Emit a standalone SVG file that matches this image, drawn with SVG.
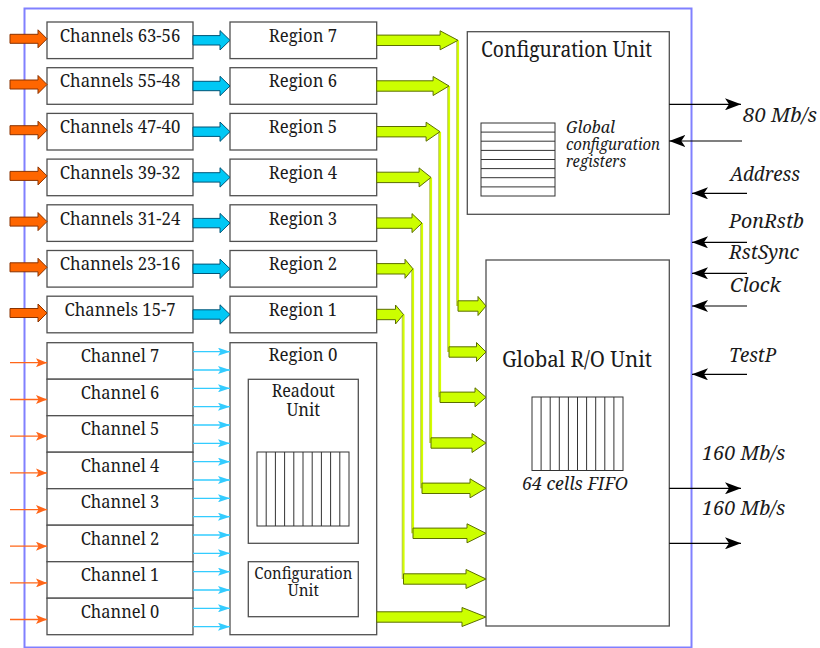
<svg xmlns="http://www.w3.org/2000/svg" width="820" height="648" viewBox="0 0 820 648">
<style>
.box{fill:#fff;stroke:#505050;stroke-width:1.3}
.grid{fill:none;stroke:#333;stroke-width:1}
text{font-family:"Noto Serif","DejaVu Serif",serif;fill:#1a1a1a}
.t{font-size:18.5px;text-anchor:middle}
.tl{font-size:18.8px;text-anchor:middle}
.ti{font-style:italic}
.ga{fill:#ccff00;stroke:#5c6e00;stroke-width:1}
.oa{fill:#ff6600;stroke:#8a3300;stroke-width:1}
.ca{fill:#00c8f5;stroke:#005577;stroke-width:1}
.vy{stroke:#d4ff00;stroke-width:2.2;fill:none}
.vo{stroke:#8fa300;stroke-width:0.6;fill:none}
.ot{stroke:#ff6619;stroke-width:1.3;fill:none;marker-end:url(#ho)}
.ct{stroke:#33ccff;stroke-width:1.3;fill:none;marker-end:url(#hc)}
.bk{stroke:#000;stroke-width:1.2;fill:none;marker-end:url(#hb)}
</style>
<defs>
<marker id="hb" viewBox="0 0 16 12" refX="16" refY="6" markerWidth="16" markerHeight="12" markerUnits="userSpaceOnUse" orient="auto"><path d="M0,0 L16,6 L0,12 L4,6 Z" fill="#000"/></marker>
<marker id="ho" viewBox="0 0 11 9" refX="11" refY="4.5" markerWidth="11" markerHeight="9" markerUnits="userSpaceOnUse" orient="auto"><path d="M0,0 L11,4.5 L0,9 L2.5,4.5 Z" fill="#ff6619"/></marker>
<marker id="hc" viewBox="0 0 12 8" refX="12" refY="4" markerWidth="12" markerHeight="8" markerUnits="userSpaceOnUse" orient="auto"><path d="M0,0 L12,4 L0,8 L2.5,4 Z" fill="#33ccff"/></marker>
</defs>
<rect x="0" y="0" width="820" height="648" fill="#fff"/>
<rect id="frame" x="24.5" y="8.5" width="667" height="639" fill="none" stroke="#8080ff" stroke-width="2"/>

<g id="ch63"><rect class="box" x="47" y="22" width="146" height="36.6"/><text class="t" x="120" y="41.7" textLength="120.5" lengthAdjust="spacingAndGlyphs">Channels 63-56</text></g>
<g id="ch55"><rect class="box" x="47" y="67.7" width="146" height="36.6"/><text class="t" x="120" y="87.4" textLength="120.5" lengthAdjust="spacingAndGlyphs">Channels 55-48</text></g>
<g id="ch47"><rect class="box" x="47" y="113.4" width="146" height="36.6"/><text class="t" x="120" y="133.1" textLength="120.5" lengthAdjust="spacingAndGlyphs">Channels 47-40</text></g>
<g id="ch39"><rect class="box" x="47" y="159.1" width="146" height="36.6"/><text class="t" x="120" y="178.8" textLength="120.5" lengthAdjust="spacingAndGlyphs">Channels 39-32</text></g>
<g id="ch31"><rect class="box" x="47" y="204.8" width="146" height="36.6"/><text class="t" x="120" y="224.5" textLength="120.5" lengthAdjust="spacingAndGlyphs">Channels 31-24</text></g>
<g id="ch23"><rect class="box" x="47" y="250.5" width="146" height="36.6"/><text class="t" x="120" y="270.2" textLength="120.5" lengthAdjust="spacingAndGlyphs">Channels 23-16</text></g>
<g id="ch15"><rect class="box" x="47" y="296.2" width="146" height="36.6"/><text class="t" x="120" y="315.9" textLength="111" lengthAdjust="spacingAndGlyphs">Channels 15-7</text></g>

<g id="reg7"><rect class="box" x="230" y="22" width="146.7" height="36.6"/><text class="t" x="303" y="41.7" textLength="68.3" lengthAdjust="spacingAndGlyphs">Region 7</text></g>
<g id="reg6"><rect class="box" x="230" y="67.7" width="146.7" height="36.6"/><text class="t" x="303" y="87.4" textLength="68.3" lengthAdjust="spacingAndGlyphs">Region 6</text></g>
<g id="reg5"><rect class="box" x="230" y="113.4" width="146.7" height="36.6"/><text class="t" x="303" y="133.1" textLength="68.3" lengthAdjust="spacingAndGlyphs">Region 5</text></g>
<g id="reg4"><rect class="box" x="230" y="159.1" width="146.7" height="36.6"/><text class="t" x="303" y="178.8" textLength="68.3" lengthAdjust="spacingAndGlyphs">Region 4</text></g>
<g id="reg3"><rect class="box" x="230" y="204.8" width="146.7" height="36.6"/><text class="t" x="303" y="224.5" textLength="68.3" lengthAdjust="spacingAndGlyphs">Region 3</text></g>
<g id="reg2"><rect class="box" x="230" y="250.5" width="146.7" height="36.6"/><text class="t" x="303" y="270.2" textLength="68.3" lengthAdjust="spacingAndGlyphs">Region 2</text></g>
<g id="reg1"><rect class="box" x="230" y="296.2" width="146.7" height="36.6"/><text class="t" x="303" y="315.9" textLength="68.3" lengthAdjust="spacingAndGlyphs">Region 1</text></g>

<g id="channels0-7">
<rect class="box" x="47" y="342.7" width="146" height="36.5"/><text class="tl" x="120" y="362.3" textLength="78.5" lengthAdjust="spacingAndGlyphs">Channel 7</text>
<rect class="box" x="47" y="379.2" width="146" height="36.5"/><text class="tl" x="120" y="398.8" textLength="78.5" lengthAdjust="spacingAndGlyphs">Channel 6</text>
<rect class="box" x="47" y="415.7" width="146" height="36.5"/><text class="tl" x="120" y="435.3" textLength="78.5" lengthAdjust="spacingAndGlyphs">Channel 5</text>
<rect class="box" x="47" y="452.2" width="146" height="36.5"/><text class="tl" x="120" y="471.8" textLength="78.5" lengthAdjust="spacingAndGlyphs">Channel 4</text>
<rect class="box" x="47" y="488.7" width="146" height="36.5"/><text class="tl" x="120" y="508.3" textLength="78.5" lengthAdjust="spacingAndGlyphs">Channel 3</text>
<rect class="box" x="47" y="525.2" width="146" height="36.5"/><text class="tl" x="120" y="544.8" textLength="78.5" lengthAdjust="spacingAndGlyphs">Channel 2</text>
<rect class="box" x="47" y="561.7" width="146" height="36.5"/><text class="tl" x="120" y="581.3" textLength="78.5" lengthAdjust="spacingAndGlyphs">Channel 1</text>
<rect class="box" x="47" y="598.2" width="146" height="36.5"/><text class="tl" x="120" y="617.8" textLength="78.5" lengthAdjust="spacingAndGlyphs">Channel 0</text>
</g>

<g id="region0">
<rect class="box" x="230" y="342.7" width="146.7" height="292"/>
<text class="tl" x="303" y="360.7" textLength="69" lengthAdjust="spacingAndGlyphs">Region 0</text>
</g>
<g id="readout">
<rect class="box" x="248.3" y="379.3" width="110" height="164"/>
<text class="tl" x="303.3" y="396.7" textLength="63.3" lengthAdjust="spacingAndGlyphs">Readout</text>
<text class="tl" x="303.3" y="416" textLength="33.8" lengthAdjust="spacingAndGlyphs">Unit</text>
<rect class="grid" x="257" y="452" width="92" height="74"/>
<path class="grid" d="M266.2,452V526M275.4,452V526M284.6,452V526M293.8,452V526M303,452V526M312.2,452V526M321.4,452V526M330.6,452V526M339.8,452V526"/>
</g>
<g id="config0">
<rect class="box" x="248.3" y="561.7" width="110" height="55"/>
<text class="tl" x="303.3" y="579" style="font-size:16px" textLength="98" lengthAdjust="spacingAndGlyphs">Configuration</text>
<text class="tl" x="303.3" y="595.7" style="font-size:16px" textLength="31" lengthAdjust="spacingAndGlyphs">Unit</text>
</g>

<g id="configUnit">
<rect class="box" x="467.3" y="31.7" width="202" height="182.6"/>
<text class="t" x="566.5" y="56.7" style="font-size:21px" textLength="171" lengthAdjust="spacingAndGlyphs">Configuration Unit</text>
<rect class="grid" x="481" y="123" width="74" height="73"/>
<path class="grid" d="M481,132.1H555M481,141.2H555M481,150.4H555M481,159.5H555M481,168.6H555M481,177.7H555M481,186.9H555"/>
<text class="ti" x="566" y="133" style="font-size:15.5px" textLength="49" lengthAdjust="spacingAndGlyphs">Global</text>
<text class="ti" x="566" y="150" style="font-size:15.5px" textLength="94" lengthAdjust="spacingAndGlyphs">configuration</text>
<text class="ti" x="566" y="167" style="font-size:15.5px" textLength="60" lengthAdjust="spacingAndGlyphs">registers</text>
</g>

<g id="globalRO">
<rect class="box" x="486" y="260" width="183.3" height="366"/>
<text class="t" x="577" y="366.7" style="font-size:21px" textLength="150" lengthAdjust="spacingAndGlyphs">Global R/O Unit</text>
<rect class="grid" x="532" y="397" width="91" height="73.5"/>
<path class="grid" d="M541.1,397V470.5M550.2,397V470.5M559.3,397V470.5M568.4,397V470.5M577.5,397V470.5M586.6,397V470.5M595.7,397V470.5M604.8,397V470.5M613.9,397V470.5"/>
<text class="ti" x="575" y="490" text-anchor="middle" style="font-size:17.5px" textLength="106" lengthAdjust="spacingAndGlyphs">64 cells FIFO</text>
</g>

<g id="labels">
<text class="ti" x="743" y="121.7" style="font-size:20.5px" textLength="74" lengthAdjust="spacingAndGlyphs">80 Mb/s</text>
<text class="ti" x="730" y="181" style="font-size:20.5px" textLength="70" lengthAdjust="spacingAndGlyphs">Address</text>
<text class="ti" x="729" y="228" style="font-size:20.5px" textLength="75" lengthAdjust="spacingAndGlyphs">PonRstb</text>
<text class="ti" x="729" y="258.5" style="font-size:20.5px" textLength="70" lengthAdjust="spacingAndGlyphs">RstSync</text>
<text class="ti" x="730" y="292" style="font-size:20.5px" textLength="50.7" lengthAdjust="spacingAndGlyphs">Clock</text>
<text class="ti" x="729" y="362" style="font-size:20.5px" textLength="47.3" lengthAdjust="spacingAndGlyphs">TestP</text>
<text class="ti" x="702" y="460" style="font-size:20.5px" textLength="83.3" lengthAdjust="spacingAndGlyphs">160 Mb/s</text>
<text class="ti" x="702" y="515" style="font-size:20.5px" textLength="83.3" lengthAdjust="spacingAndGlyphs">160 Mb/s</text>
</g>

<g id="connectors">
<path class="oa" d="M10,34.3H38V29.8L47,38.8L38,47.8V43.3H10Z"/>
<path class="oa" d="M10,80H38V75.5L47,84.5L38,93.5V89H10Z"/>
<path class="oa" d="M10,125.7H38V121.2L47,130.2L38,139.2V134.7H10Z"/>
<path class="oa" d="M10,171.4H38V166.9L47,175.9L38,184.9V180.4H10Z"/>
<path class="oa" d="M10,217.1H38V212.6L47,221.6L38,230.6V226.1H10Z"/>
<path class="oa" d="M10,262.8H38V258.3L47,267.3L38,276.3V271.8H10Z"/>
<path class="oa" d="M10,308.5H38V304L47,313L38,322V317.5H10Z"/>
<path class="ca" d="M193,35.6H220V30.6L230,40.3L220,50V45H193Z"/>
<path class="ca" d="M193,81.3H220V76.3L230,86L220,95.7V90.7H193Z"/>
<path class="ca" d="M193,127H220V122L230,131.7L220,141.4V136.4H193Z"/>
<path class="ca" d="M193,172.7H220V167.7L230,177.4L220,187.1V182.1H193Z"/>
<path class="ca" d="M193,218.4H220V213.4L230,223.1L220,232.8V227.8H193Z"/>
<path class="ca" d="M193,264.1H220V259.1L230,268.8L220,278.5V273.5H193Z"/>
<path class="ca" d="M193,309.8H220V304.8L230,314.5L220,324.2V319.2H193Z"/>
<path class="ot" d="M10,362.7H47"/>
<path class="ot" d="M10,399.5H47"/>
<path class="ot" d="M10,436.2H47"/>
<path class="ot" d="M10,472.9H47"/>
<path class="ot" d="M10,509.6H47"/>
<path class="ot" d="M10,546.2H47"/>
<path class="ot" d="M10,582.9H47"/>
<path class="ot" d="M10,619.5H47"/>
<path class="ct" d="M193,351.7H230"/>
<path class="ct" d="M193,370H230"/>
<path class="ct" d="M193,388.3H230"/>
<path class="ct" d="M193,406.7H230"/>
<path class="ct" d="M193,425H230"/>
<path class="ct" d="M193,443.3H230"/>
<path class="ct" d="M193,461.7H230"/>
<path class="ct" d="M193,480H230"/>
<path class="ct" d="M193,498.3H230"/>
<path class="ct" d="M193,516.7H230"/>
<path class="ct" d="M193,535H230"/>
<path class="ct" d="M193,553.3H230"/>
<path class="ct" d="M193,571.7H230"/>
<path class="ct" d="M193,590H230"/>
<path class="ct" d="M193,608.3H230"/>
<path class="ct" d="M193,626.7H230"/>
<path class="vy" d="M458,40.3V306M449,86V352M440,131.7V397.3M431,177.4V443M422,223.1V488.3M413,268.8V533.3M403.5,314.5V579"/>
<path class="vo" d="M456.7,40.3V306M447.7,86V352M438.7,131.7V397.3M429.7,177.4V443M420.7,223.1V488.3M411.7,268.8V533.3M402.2,314.5V579"/>
<path class="ga" d="M376.7,35.1H440.1V30.8L458,40.3L440.1,49.8V45.5H376.7Z"/>
<path class="ga" d="M376.7,80.8H433.1V76.5L449,86L433.1,95.5V91.2H376.7Z"/>
<path class="ga" d="M376.7,126.5H426.1V122.2L440,131.7L426.1,141.2V136.9H376.7Z"/>
<path class="ga" d="M376.7,172.2H419.1V167.9L431,177.4L419.1,186.9V182.6H376.7Z"/>
<path class="ga" d="M376.7,217.9H412V213.6L422,223.1L412,232.6V228.3H376.7Z"/>
<path class="ga" d="M376.7,263.6H405V259.3L413,268.8L405,278.3V274H376.7Z"/>
<path class="ga" d="M376.7,309.3H395.5V305L403.5,314.5L395.5,324V319.7H376.7Z"/>
<path class="ga" d="M458,300.8H478V296.5L486,306L478,315.5V311.2H458Z"/>
<path class="ga" d="M449,346.8H476.5V342.5L486,352L476.5,361.5V357.2H449Z"/>
<path class="ga" d="M440,392.1H475V387.8L486,397.3L475,406.8V402.5H440Z"/>
<path class="ga" d="M431,437.8H472V433.5L486,443L472,452.5V448.2H431Z"/>
<path class="ga" d="M422,483.1H470V478.8L486,488.3L470,497.8V493.5H422Z"/>
<path class="ga" d="M413,528.1H467V523.8L486,533.3L467,542.8V538.5H413Z"/>
<path class="ga" d="M403.5,573.8H466V569.5L486,579L466,588.5V584.2H403.5Z"/>
<path class="ga" d="M376.7,611.8H462V607.5L486,617L462,626.5V622.2H376.7Z"/>
<path class="bk" d="M669.3,104.3H741"/>
<path class="bk" d="M742,141H669.3"/>
<path class="bk" d="M747,193.3H692"/>
<path class="bk" d="M747,242.3H692"/>
<path class="bk" d="M747,273.3H692"/>
<path class="bk" d="M747,306H692"/>
<path class="bk" d="M747,374.3H692"/>
<path class="bk" d="M669.3,488.3H741"/>
<path class="bk" d="M669.3,543.3H741"/>
</g>
</svg>
